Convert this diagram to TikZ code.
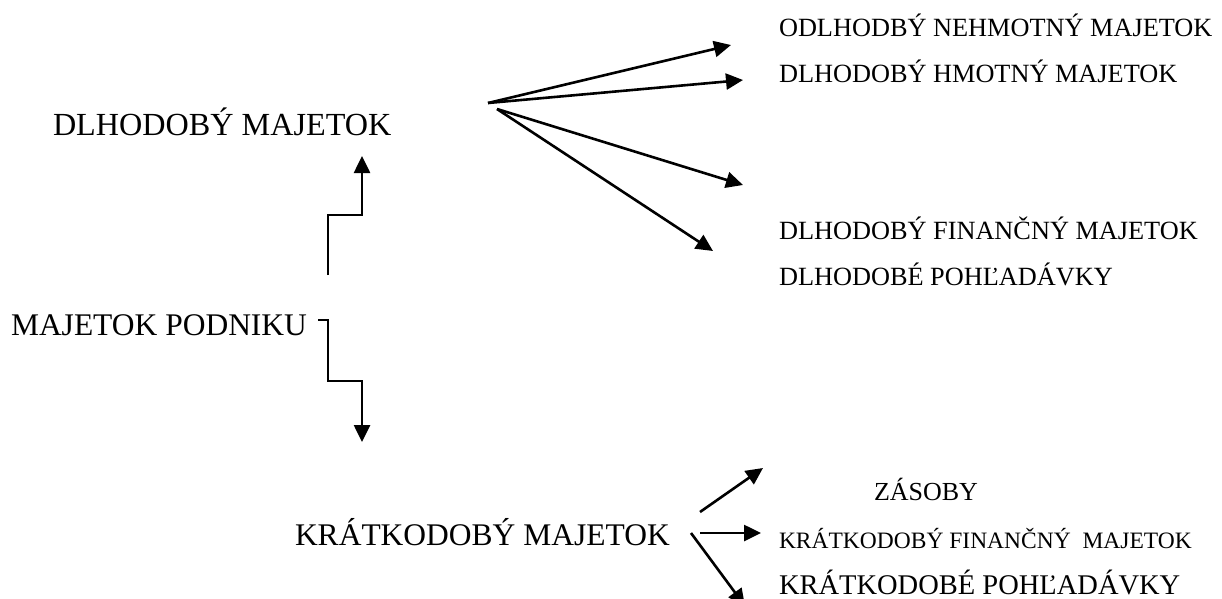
\documentclass[tikz,border=0pt]{standalone}
\usepackage{fontspec}
\setmainfont{Liberation Serif}
\usetikzlibrary{arrows.meta}
\tikzset{
  lbl/.style={anchor=base west, inner sep=0pt, outer sep=0pt},
  big/.style={lbl, font=\fontsize{31.5}{36}\selectfont},
  small/.style={lbl, font=\fontsize{26.3}{30}\selectfont},
  arr/.style={line width=2.6pt, -{Triangle[length=17pt,width=16pt]}},
  stepline/.style={line width=2.6pt}
}
\begin{document}
\begin{tikzpicture}[x=1pt,y=-1pt]
\useasboundingbox (0,0) rectangle (1222,598);
% main labels
\node[lbl, font=\fontsize{32.2}{36}\selectfont] (dm) at (53,135) {DLHODOBÝ MAJETOK};
\node[big] (mp) at (11,335) {MAJETOK PODNIKU};
\node[big] (km) at (295,545) {KRÁTKODOBÝ MAJETOK};
% right labels, long-term
\node[small] (r1) at (779,36) {ODLHODBÝ NEHMOTNÝ MAJETOK};
\node[small] (r2) at (779,82) {DLHODOBÝ HMOTNÝ MAJETOK};
\node[small] (r3) at (779,239) {DLHODOBÝ FINANČNÝ MAJETOK};
\node[small] (r4) at (779,285) {DLHODOBÉ POHĽADÁVKY};
% right labels, short-term
\node[lbl, font=\fontsize{26}{30}\selectfont] (z) at (874,500) {ZÁSOBY};
\node[lbl, font=\fontsize{23.5}{28}\selectfont] (kf) at (779,548) {KRÁTKODOBÝ FINANČNÝ~~MAJETOK};
\node[lbl, font=\fontsize{28.5}{32}\selectfont] (kp) at (779,594) {KRÁTKODOBÉ POHĽADÁVKY};
% coordinates
\coordinate (o1) at (488,103);
\coordinate (o2) at (497,109);
\coordinate (t1) at (731,45);
\coordinate (t2) at (743,80);
\coordinate (t3) at (743,185);
\coordinate (t4) at (713,251);
\coordinate (u0) at (328,275);
\coordinate (u1) at (328,215);
\coordinate (u2) at (362,215);
\coordinate (u3) at (362,156);
\coordinate (d0) at (318,320);
\coordinate (d1) at (328,320);
\coordinate (d2) at (328,381);
\coordinate (d3) at (362,381);
\coordinate (d4) at (362,442);
\coordinate (b0) at (700,512);
\coordinate (b1) at (763,468);
\coordinate (c0) at (700,533);
\coordinate (c1) at (761,533);
\coordinate (e0) at (691,533);
\coordinate (e1) at (745,606);
% top fan
\draw[arr] (o1) -- (t1);
\draw[arr] (o1) -- (t2);
\draw[arr] (o2) -- (t3);
\draw[arr] (o2) -- (t4);
% step connectors
\draw[arr] (u0) -- (u1) -- (u2) -- (u3);
\draw[arr] (d0) -- (d1) -- (d2) -- (d3) -- (d4);
% bottom fan
\draw[arr] (b0) -- (b1);
\draw[arr] (c0) -- (c1);
\draw[arr] (e0) -- (e1);
\end{tikzpicture}
\end{document}
